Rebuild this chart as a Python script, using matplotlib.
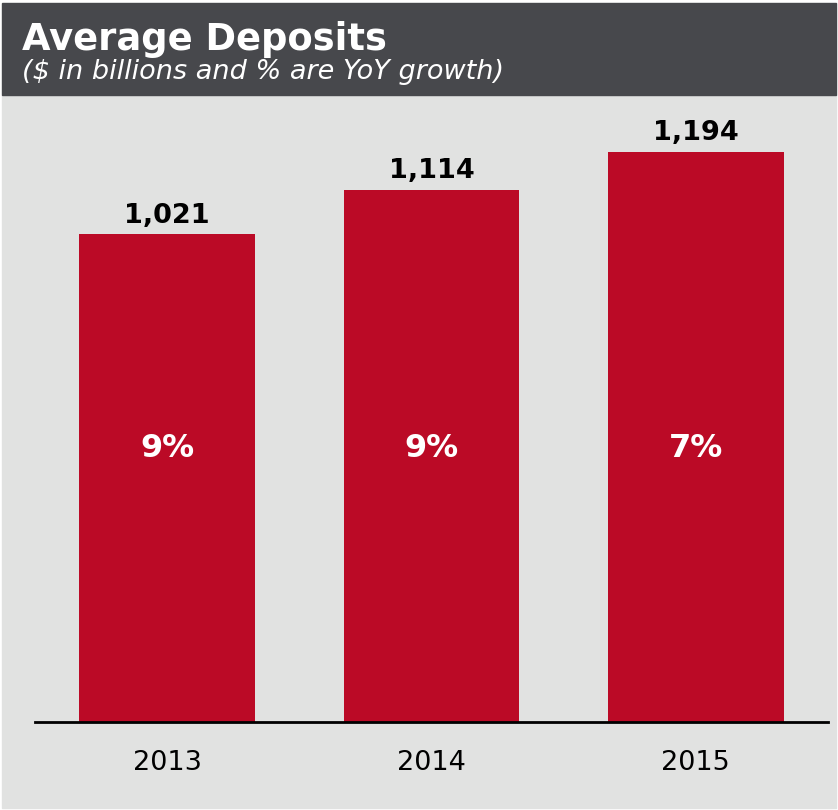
import matplotlib
matplotlib.use("Agg")
import matplotlib.pyplot as plt
from matplotlib.patches import Rectangle

years = ["2013", "2014", "2015"]
deposits = [1021, 1114, 1194]
growth = ["9%", "9%", "7%"]

W, H = 838, 810
fig = plt.figure(figsize=(W / 100, H / 100), dpi=100, facecolor="white")

# background panels (pixel coords -> figure fraction)
def px_rect(x0, y0, x1, y1, color):
    fig.patches.append(Rectangle((x0 / W, 1 - y1 / H), (x1 - x0) / W, (y1 - y0) / H,
                                 transform=fig.transFigure, color=color, zorder=-1))

px_rect(2, 95, 836, 808, "#E1E2E1")
px_rect(2, 3, 836, 95, "#47484C")

fig.text(22 / W, 1 - 50 / H, "Average Deposits", color="white", fontsize=26.6,
         fontweight="bold", family="DejaVu Sans", va="baseline")
fig.text(22 / W, 1 - 79 / H, "($ in billions and % are YoY growth)", color="white",
         fontsize=19.5, style="italic", family="DejaVu Sans", va="baseline")

ax = fig.add_axes([35 / W, 1 - 722 / H, 793 / W, (722 - 100) / H])
ax.set_facecolor("none")
x = range(len(years))
ax.bar(x, deposits, width=0.665, color="#BB0A26", zorder=2)

for i, v in enumerate(deposits):
    ax.text(i, v + 12, f"{v:,}", ha="center", va="bottom", fontsize=19.5,
            fontweight="bold", color="black")
    ax.text(i, 572, growth[i], ha="center", va="center", fontsize=23,
            fontweight="bold", color="white")

ax.set_xlim(-0.5, 2.5)
ax.set_ylim(0, 1302)
ax.set_xticks(list(x))
ax.set_xticklabels(years, fontsize=19.5)
ax.tick_params(axis="x", length=0, pad=20)
ax.set_yticks([])
for s in ["left", "right", "top"]:
    ax.spines[s].set_visible(False)
ax.spines["bottom"].set_linewidth(2)
ax.spines["bottom"].set_color("black")

fig.savefig("out.png", dpi=100, facecolor="white")
